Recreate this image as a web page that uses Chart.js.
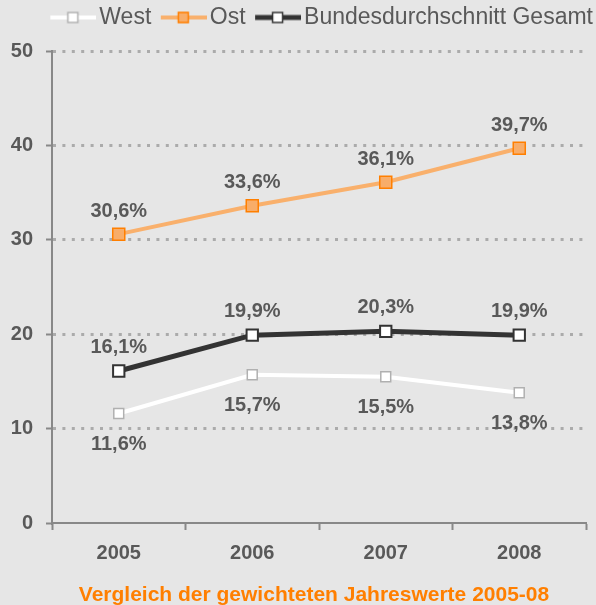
<!DOCTYPE html>
<html>
<head>
<meta charset="utf-8">
<script src="https://cdn.jsdelivr.net/npm/chart.js@4"></script>
<style>
  body { margin: 0; background: #e6e6e6; }
  #wrap { width: 596px; height: 605px; }
</style>
</head>
<body>
<div id="wrap"><canvas id="chart"></canvas></div>
<script>
// Werte
const years = ['2005', '2006', '2007', '2008'];
const west = [11.6, 15.7, 15.5, 13.8];
const ost = [30.6, 33.6, 36.1, 39.7];
const gesamt = [16.1, 19.9, 20.3, 19.9];
const yTicks = [0, 10, 20, 30, 40, 50];
const seriesNames = ['West', 'Ost', 'Bundesdurchschnitt Gesamt'];
const subtitle = 'Vergleich der gewichteten Jahreswerte 2005-08';

const FONT = 'Arial, "Liberation Sans", sans-serif';
const GREY = '#595959';

// Legenden-Symbol: Linie mit Quadrat, rechtsbuendig auf der Zeichenflaeche
function legendIcon(line, fill, border, lw) {
    const c = document.createElement('canvas');
    c.width = 61; c.height = 14;
    const g = c.getContext('2d');
    g.strokeStyle = line; g.lineWidth = lw;
    g.beginPath(); g.moveTo(15, 7); g.lineTo(61, 7); g.stroke();
    g.fillStyle = fill; g.fillRect(32, 1.5, 11, 11);
    g.strokeStyle = border; g.lineWidth = 1.5;
    g.strokeRect(32.5, 2, 10, 10);
    return c;
}
const icons = [
    legendIcon('#ffffff', '#ffffff', '#b0b0b0', 4),
    legendIcon('#f9b06c', '#f8ad69', '#ff7f00', 4),
    legendIcon('#333333', '#ffffff', '#333333', 5)
];

// Legende hoeher machen, damit die Zeichenflaeche bei y=51 beginnt
const legendHeight = {
    id: 'legendHeight',
    beforeInit(chart) {
        const fit = chart.legend.fit;
        chart.legend.fit = function () {
            fit.call(this);
            this.height = 48;
        };
    }
};

// Werte-Beschriftung + Untertitel
const valueLabels = {
    id: 'valueLabels',
    afterDatasetsDraw(chart) {
        const ctx = chart.ctx;
        ctx.save();
        ctx.font = 'bold 20px ' + FONT;
        ctx.fillStyle = GREY;
        ctx.textAlign = 'center';
        ctx.textBaseline = 'middle';
        chart.data.datasets.forEach((ds, i) => {
            chart.getDatasetMeta(i).data.forEach((pt, j) => {
                const txt = ds.data[j].toFixed(1).replace('.', ',') + '%';
                ctx.fillText(txt, pt.x, pt.y + ds.labelOffset);
            });
        });
        ctx.font = 'bold 21px ' + FONT;
        ctx.fillStyle = '#ff7f00';
        ctx.fillText(subtitle, chart.width / 2 + 16, 595);
        ctx.restore();
    }
};

const chart = new Chart(document.getElementById('chart'), {
    type: 'line',
    data: {
        labels: years,
        datasets: [{
            label: seriesNames[0],
            data: west,
            borderColor: '#ffffff',
            borderWidth: 4,
            pointStyle: 'rect',
            pointRadius: 7,
            pointBackgroundColor: '#ffffff',
            pointBorderColor: '#b0b0b0',
            pointBorderWidth: 1.5,
            labelOffset: 31
        }, {
            label: seriesNames[1],
            data: ost,
            borderColor: '#f9b06c',
            borderWidth: 4,
            pointStyle: 'rect',
            pointRadius: 8.5,
            pointBackgroundColor: '#f8ad69',
            pointBorderColor: '#ff7f00',
            pointBorderWidth: 1.5,
            labelOffset: -23
        }, {
            label: seriesNames[2],
            data: gesamt,
            borderColor: '#333333',
            borderWidth: 5,
            pointStyle: 'rect',
            pointRadius: 8,
            pointBackgroundColor: '#ffffff',
            pointBorderColor: '#333333',
            pointBorderWidth: 2,
            labelOffset: -24
        }]
    },
    options: {
        responsive: true,
        maintainAspectRatio: false,
        animation: false,
        layout: { padding: { top: 3, left: 0, right: 0, bottom: 0 } },
        plugins: {
            tooltip: { enabled: false },
            legend: {
                align: 'end',
                labels: {
                    usePointStyle: true,
                    pointStyleWidth: 44,
                    padding: 3,
                    color: GREY,
                    font: { family: FONT, size: 23 },
                    generateLabels(chart) {
                        const items = Chart.defaults.plugins.legend.labels.generateLabels(chart);
                        items.forEach((it, i) => { it.pointStyle = icons[i]; });
                        return items;
                    }
                }
            }
        },
        scales: {
            x: {
                offset: true,
                grid: { offset: true, drawOnChartArea: false, drawTicks: true, tickLength: 7, tickColor: '#888888', tickWidth: 2 },
                border: { color: '#888888', width: 2 },
                ticks: { color: GREY, padding: 11, font: { family: FONT, size: 20, weight: 'bold' } },
                afterFit(s) { s.height = 82; }
            },
            y: {
                min: yTicks[0],
                max: yTicks[yTicks.length - 1],
                ticks: { stepSize: yTicks[1] - yTicks[0], color: GREY, padding: 13, font: { family: FONT, size: 20, weight: 'bold' } },
                grid: {
                    color: ctx => ctx.tick && ctx.tick.value === 0 ? 'rgba(0,0,0,0)' : '#ababab',
                    lineWidth: 3,
                    tickLength: 6,
                    tickColor: '#888888',
                    tickWidth: 2
                },
                border: { color: '#888888', width: 2, dash: [3, 6.4] },
                afterFit(s) { s.width = 52; }
            },
            // leerer Rand rechts
            yRight: {
                position: 'right',
                grid: { display: false },
                ticks: { display: false },
                border: { display: false },
                afterFit(s) { s.width = 9; }
            }
        }
    },
    plugins: [legendHeight, valueLabels]
});
</script>
</body>
</html>
